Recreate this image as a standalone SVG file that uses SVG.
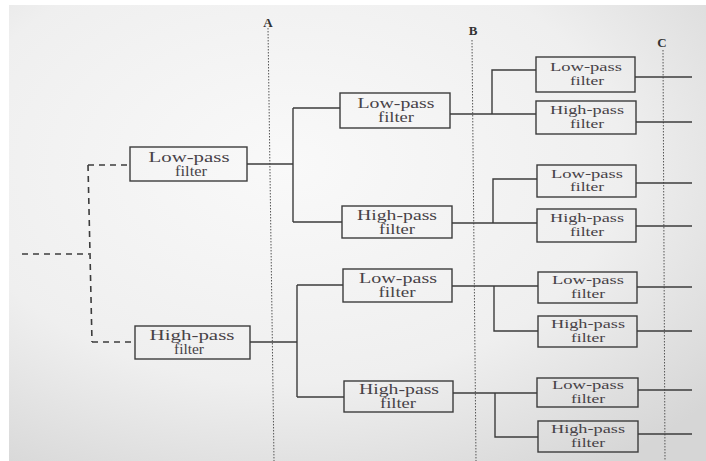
<svg xmlns="http://www.w3.org/2000/svg" width="706" height="461" viewBox="0 0 706 461">
<style>
.box{fill:none;stroke:#3c3c3c;stroke-width:1.4}
.t1{font-family:"Liberation Serif","Times New Roman",serif;font-size:14px;fill:#474247;text-anchor:middle}
.t3{font-family:"Liberation Serif","Times New Roman",serif;font-size:12.5px;fill:#474247;text-anchor:middle}
.wire{fill:none;stroke:#3c3c3c;stroke-width:1.4}
.dash{fill:none;stroke:#3c3c3c;stroke-width:1.6;stroke-dasharray:6 5}
.stage{fill:none;stroke:#555;stroke-width:1;stroke-dasharray:1.5 1.5}
.lbl{font-family:"Liberation Serif","Times New Roman",serif;font-size:13px;font-weight:bold;fill:#333;text-anchor:middle}
</style>
<defs>
<radialGradient id="paper" cx="0.4" cy="0.35" r="0.8">
<stop offset="0" stop-color="#f9f9f9"/>
<stop offset="0.6" stop-color="#efefef"/>
<stop offset="1" stop-color="#d6d6d6"/>
</radialGradient>
</defs>
<rect x="0" y="0" width="706" height="461" fill="#ffffff"/>
<rect x="9" y="5" width="697" height="456" fill="url(#paper)"/>

<g id="stage-lines">
<path class="stage" d="M268,28 L274,461"/>
<path class="stage" d="M472,40 L476,461"/>
<path class="stage" d="M663,50 L665,461"/>
<text class="lbl" x="268" y="27">A</text>
<text class="lbl" x="473" y="35">B</text>
<text class="lbl" x="662" y="47">C</text>
</g>

<g id="connectors">
<path class="dash" d="M22,254 H89"/>
<path class="dash" d="M88,165 L92,342"/>
<path class="dash" d="M88,165 H128"/>
<path class="dash" d="M92,342 H133"/>
<path class="wire" d="M247,164 H293 M293,108 V222 M293,108 H340 M293,222 H342"/>
<path class="wire" d="M250,342 H297 M297,285 V397 M297,285 H343 M297,397 H344"/>
<path class="wire" d="M450,114 H536 M492,114 V70 H536"/>
<path class="wire" d="M452,223 H537 M493,223 V179 H537"/>
<path class="wire" d="M452,286 H538 M494,286 V331 H538"/>
<path class="wire" d="M453,393 H537 M495,393 V437 H538"/>
<path class="wire" d="M635,77 H692 M636,122 H692 M636,183 H692 M636,226 H692 M637,287 H692 M637,331 H692 M638,390 H692 M638,434 H692"/>
</g>

<g id="lp-1">
<rect class="box" x="130" y="147" width="117" height="34"/>
<text class="t1" x="189" y="161.5" textLength="81" lengthAdjust="spacingAndGlyphs">Low-pass</text>
<text class="t1" x="191" y="175.5" textLength="32" lengthAdjust="spacingAndGlyphs">filter</text>
</g>
<g id="hp-1">
<rect class="box" x="135" y="326" width="115" height="33"/>
<text class="t1" x="192" y="340" textLength="85" lengthAdjust="spacingAndGlyphs">High-pass</text>
<text class="t1" x="189" y="354" textLength="30" lengthAdjust="spacingAndGlyphs">filter</text>
</g>

<g id="lp-lp">
<rect class="box" x="340" y="93" width="110" height="35"/>
<text class="t1" x="396" y="108" textLength="77" lengthAdjust="spacingAndGlyphs">Low-pass</text>
<text class="t1" x="396" y="122" textLength="36" lengthAdjust="spacingAndGlyphs">filter</text>
</g>
<g id="lp-hp">
<rect class="box" x="342" y="206" width="110" height="32"/>
<text class="t1" x="397" y="219.5" textLength="80" lengthAdjust="spacingAndGlyphs">High-pass</text>
<text class="t1" x="397" y="233.5" textLength="36" lengthAdjust="spacingAndGlyphs">filter</text>
</g>
<g id="hp-lp">
<rect class="box" x="343" y="269" width="109" height="33"/>
<text class="t1" x="398" y="283" textLength="78" lengthAdjust="spacingAndGlyphs">Low-pass</text>
<text class="t1" x="397" y="297" textLength="37" lengthAdjust="spacingAndGlyphs">filter</text>
</g>
<g id="hp-hp">
<rect class="box" x="344" y="381" width="109" height="31"/>
<text class="t1" x="399" y="394" textLength="80" lengthAdjust="spacingAndGlyphs">High-pass</text>
<text class="t1" x="398" y="408" textLength="36" lengthAdjust="spacingAndGlyphs">filter</text>
</g>

<g id="lp-lp-lp">
<rect class="box" x="536" y="57" width="99" height="35"/>
<text class="t3" x="586" y="71" textLength="72" lengthAdjust="spacingAndGlyphs">Low-pass</text>
<text class="t3" x="587" y="84.5" textLength="34" lengthAdjust="spacingAndGlyphs">filter</text>
</g>
<g id="lp-lp-hp">
<rect class="box" x="536" y="101" width="100" height="33"/>
<text class="t3" x="587" y="114" textLength="74" lengthAdjust="spacingAndGlyphs">High-pass</text>
<text class="t3" x="587" y="127.5" textLength="34" lengthAdjust="spacingAndGlyphs">filter</text>
</g>
<g id="lp-hp-lp">
<rect class="box" x="537" y="165" width="99" height="32"/>
<text class="t3" x="587" y="177.5" textLength="72" lengthAdjust="spacingAndGlyphs">Low-pass</text>
<text class="t3" x="587" y="191" textLength="34" lengthAdjust="spacingAndGlyphs">filter</text>
</g>
<g id="lp-hp-hp">
<rect class="box" x="537" y="209" width="99" height="33"/>
<text class="t3" x="587" y="222" textLength="74" lengthAdjust="spacingAndGlyphs">High-pass</text>
<text class="t3" x="587" y="235.5" textLength="34" lengthAdjust="spacingAndGlyphs">filter</text>
</g>
<g id="hp-lp-lp">
<rect class="box" x="538" y="272" width="99" height="31"/>
<text class="t3" x="588" y="284" textLength="72" lengthAdjust="spacingAndGlyphs">Low-pass</text>
<text class="t3" x="588" y="297.5" textLength="34" lengthAdjust="spacingAndGlyphs">filter</text>
</g>
<g id="hp-lp-hp">
<rect class="box" x="538" y="316" width="99" height="31"/>
<text class="t3" x="588" y="328" textLength="74" lengthAdjust="spacingAndGlyphs">High-pass</text>
<text class="t3" x="588" y="341.5" textLength="34" lengthAdjust="spacingAndGlyphs">filter</text>
</g>
<g id="hp-hp-lp">
<rect class="box" x="537" y="378" width="101" height="29"/>
<text class="t3" x="588" y="389" textLength="72" lengthAdjust="spacingAndGlyphs">Low-pass</text>
<text class="t3" x="588" y="402.5" textLength="34" lengthAdjust="spacingAndGlyphs">filter</text>
</g>
<g id="hp-hp-hp">
<rect class="box" x="538" y="421" width="100" height="31"/>
<text class="t3" x="588" y="433" textLength="74" lengthAdjust="spacingAndGlyphs">High-pass</text>
<text class="t3" x="588" y="446.5" textLength="34" lengthAdjust="spacingAndGlyphs">filter</text>
</g>
</svg>
